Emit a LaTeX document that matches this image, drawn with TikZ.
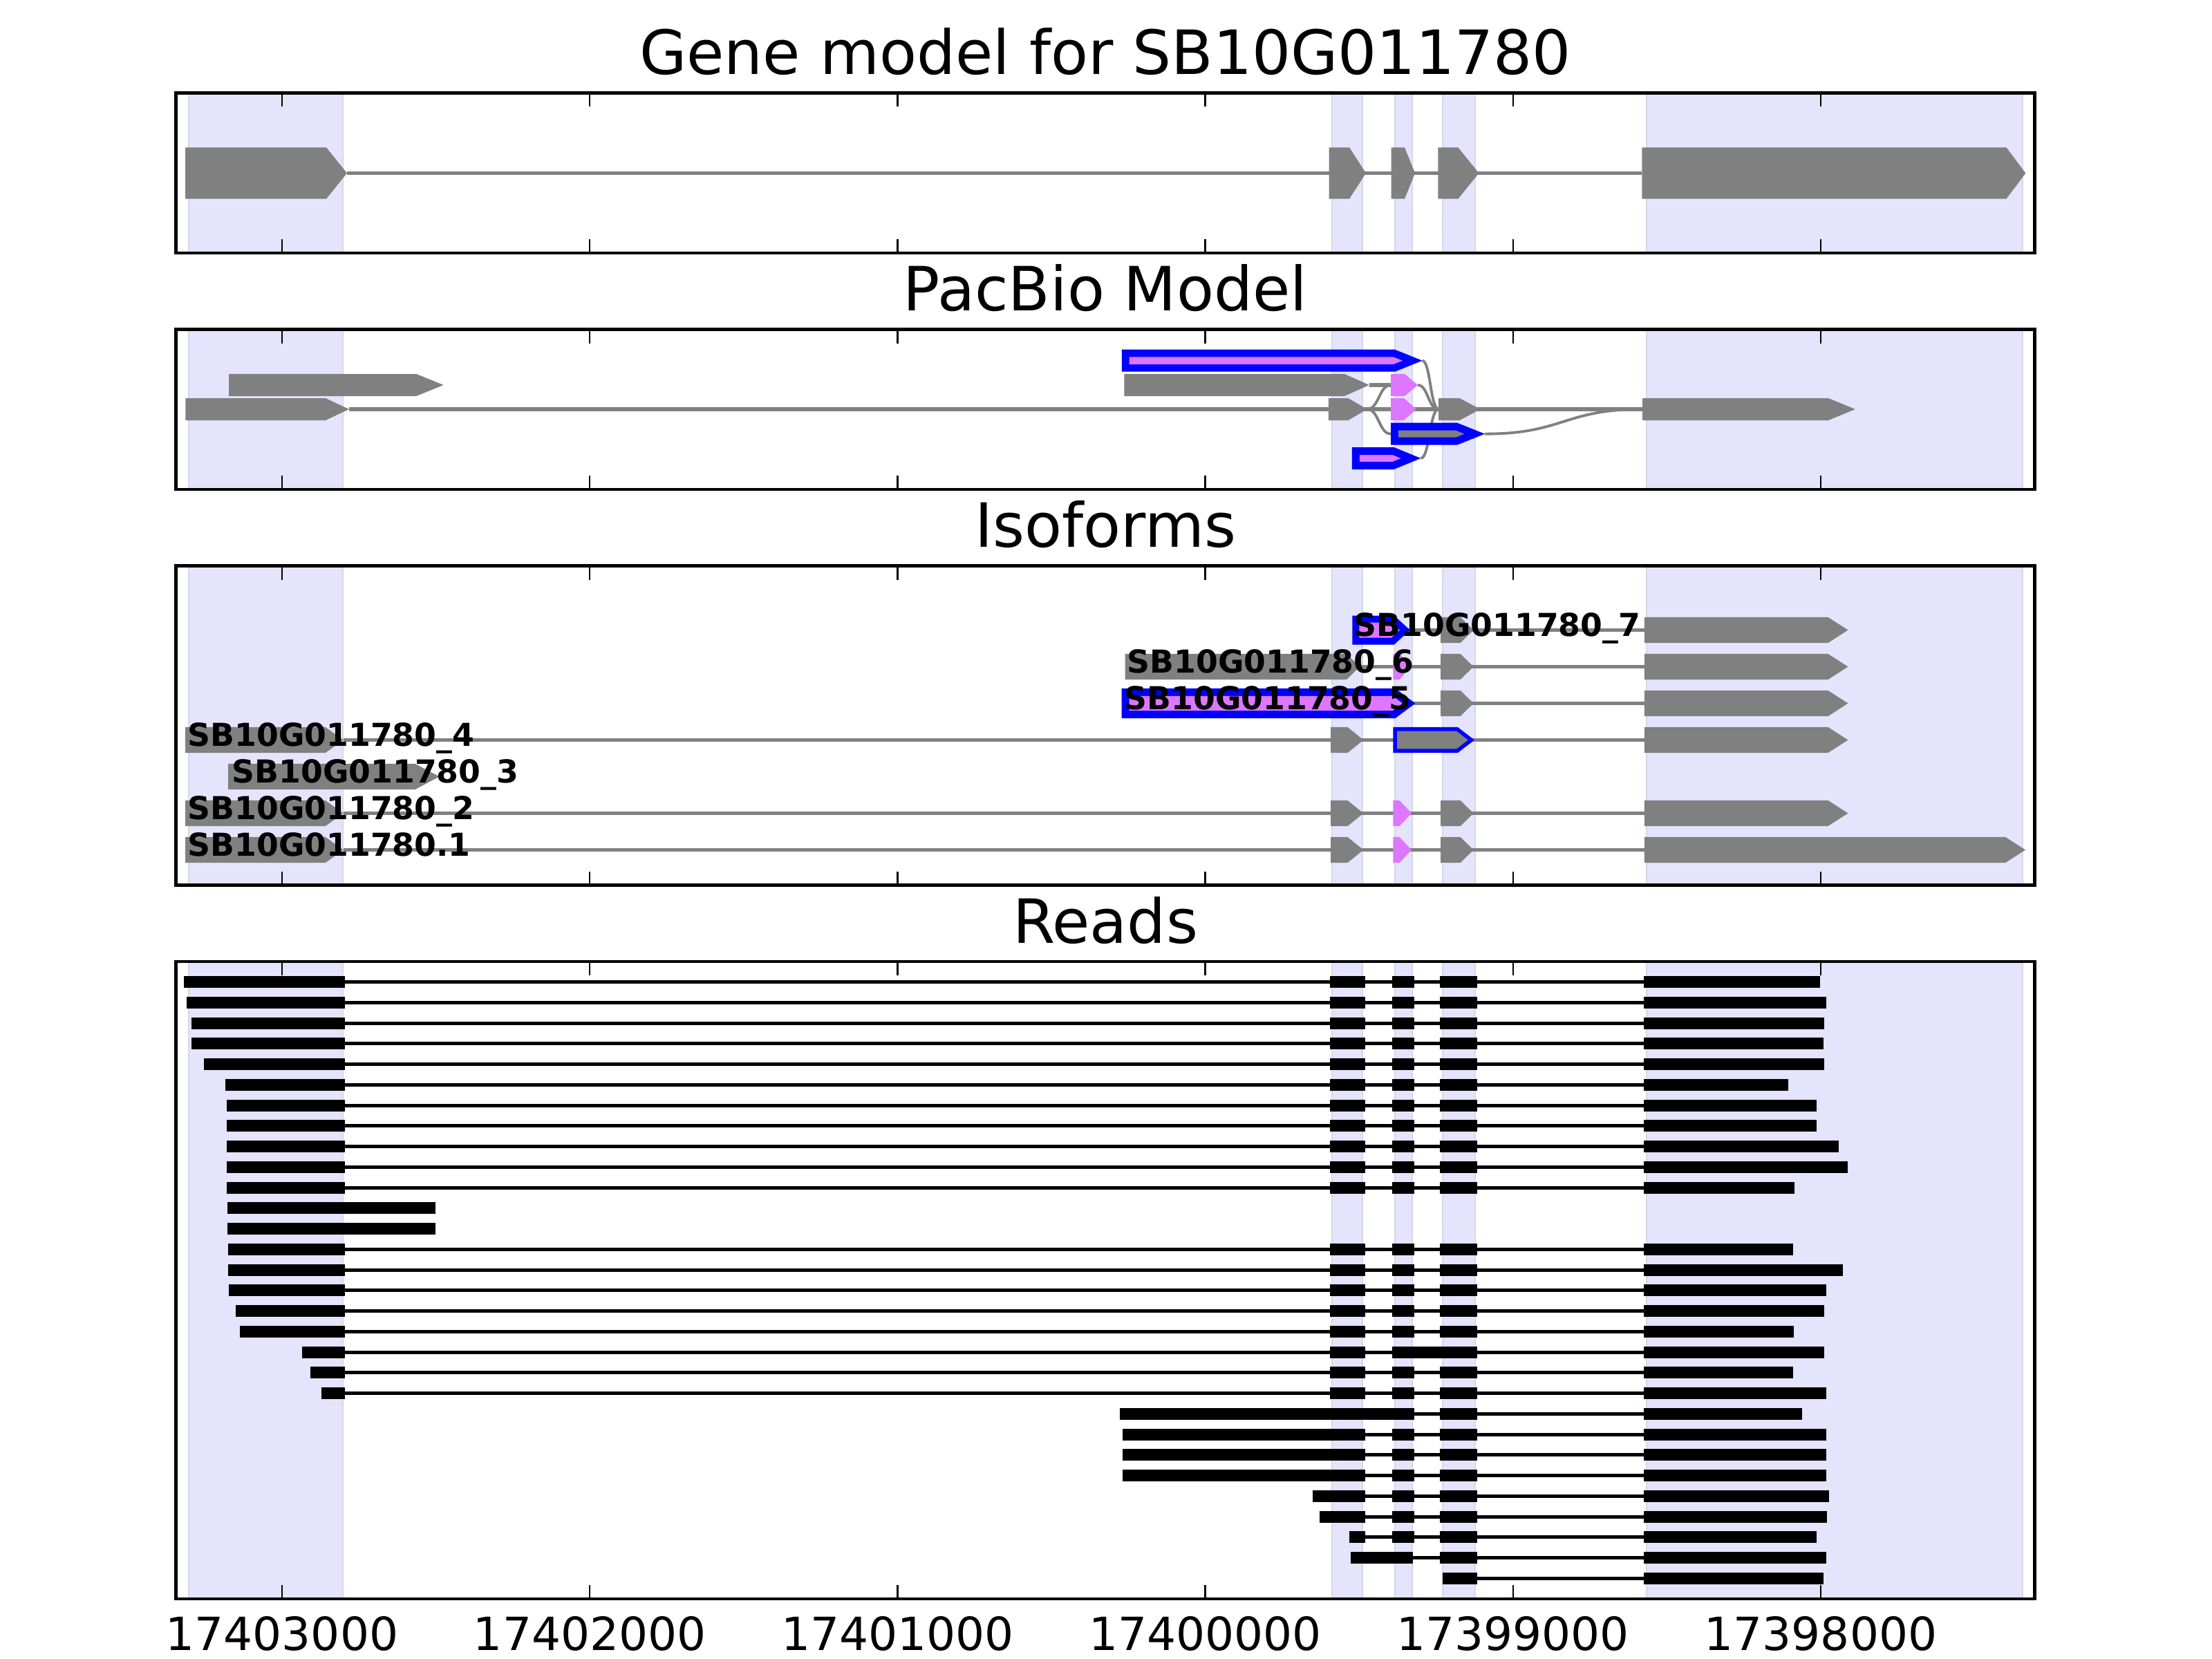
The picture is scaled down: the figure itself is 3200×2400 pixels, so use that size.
\documentclass[tikz,border=0pt]{standalone}
\usepackage{fontspec}
\setmainfont{DejaVu Sans}
\definecolor{gexon}{RGB}{128,128,128}
\definecolor{magc}{RGB}{221,119,255}
\definecolor{bluec}{RGB}{0,0,255}
\definecolor{bandc}{RGB}{228,228,252}
\definecolor{bandedge}{RGB}{214,214,236}
\newcommand{\ex}[6]{\fill[#1] (#2,#4-#5/2) -- (#3-#6,#4-#5/2) -- (#3,#4) -- (#3-#6,#4+#5/2) -- (#2,#4+#5/2) -- cycle;}
\newcommand{\bex}[7]{%
  \ex{bluec}{#2}{#3}{#4}{#5}{#6}%
  \pgfmathsetmacro\tipoff{#7/sin(atan((#5/2)/#6))}%
  \pgfmathsetmacro\ixa{#2+#7}%
  \pgfmathsetmacro\ixb{#3-\tipoff}%
  \pgfmathsetmacro\ih{#5-2*#7}%
  \pgfmathsetmacro\ihd{#6*\ih/#5}%
  \ex{#1}{\ixa}{\ixb}{#4}{\ih}{\ihd}}
\newcommand{\rblk}[3]{\fill[black] (#1,#3-8.5) rectangle (#2,#3+8.5);}
\newcommand{\rlin}[3]{\draw[rline] (#1,#3) -- (#2,#3);}
\newcommand{\stdread}[3]{%
  \pgfmathsetmacro\ry{1420.6+(#1-1)*29.75}%
  \rlin{499.3}{2378}{\ry}%
  \rblk{#2}{499.3}{\ry}\rblk{1924.2}{1974.7}{\ry}\rblk{2013.8}{2045.9}{\ry}\rblk{2082.6}{2137}{\ry}\rblk{2378}{#3}{\ry}}
\begin{document}
\begin{tikzpicture}[x=0.01cm,y=-0.01cm,
  gline/.style={draw=gexon,line width=1.5pt},
  gcurve/.style={draw=gexon,line width=1.1pt},
  rline/.style={draw=black,line width=1.4pt},
  frame/.style={draw=black,line width=1.3pt},
  tickmark/.style={draw=black,line width=0.7pt},
  titletext/.style={font=\fontsize{25.1}{30}\selectfont,inner sep=0pt,anchor=base},
  ticktext/.style={font=\fontsize{18.8}{22}\selectfont,inner sep=0pt,anchor=base},
  lab/.style={font=\fontsize{13}{15}\selectfont\bfseries,inner sep=0pt,anchor=base west}]
\useasboundingbox[fill=white] (0,0) rectangle (3200,2400);

% ---------- bands ----------
\foreach \ya/\yb in {134.5/366, 476.5/708, 818.5/1280.5, 1391/2313}{
  \foreach \xa/\xb in {273/496, 1927/1971, 2018/2043, 2087/2134, 2382/2926}{
    \fill[bandc,draw=bandedge,line width=0.5pt] (\xa,\ya) rectangle (\xb,\yb);
  }
}

% ---------- titles ----------
\node[titletext] (title1) at (1599,107.5) {Gene model for SB10G011780};
\node[titletext] (title2) at (1599,449.5) {PacBio Model};
\node[titletext] (title3) at (1599,791.5) {Isoforms};
\node[titletext] (title4) at (1599,1364) {Reads};

% ---------- gene model ----------
\draw[gline] (502,250.5) -- (2375.3,250.5);
\ex{gexon}{268}{502}{250.5}{74.4}{30}
\ex{gexon}{1922.6}{1976}{250.5}{74.4}{24}
\ex{gexon}{2012.7}{2047}{250.5}{74.4}{15}
\ex{gexon}{2080.4}{2139.4}{250.5}{74.4}{30}
\ex{gexon}{2375.3}{2930.4}{250.5}{74.4}{28}

% ---------- PacBio model ----------
\draw[gline] (505,592) -- (2376,592);
\draw[gline] (1980.8,557) -- (2012,557);
\draw[gcurve] (1977.7,592) .. controls (1994.9,592) and (1994.9,557) .. (2012,557);
\draw[gcurve] (1977.7,592) .. controls (1994.9,592) and (1994.9,627.7) .. (2012,627.7);
\draw[gcurve] (2057.6,521.7) .. controls (2069.3,521.7) and (2069.3,592) .. (2081,592);
\draw[gcurve] (2050.9,557) .. controls (2066,557) and (2066,592) .. (2081,592);
\draw[gcurve] (2055.4,663) .. controls (2068.2,663) and (2068.2,592) .. (2081,592);
\draw[gcurve] (2148,627.7) .. controls (2262,627.7) and (2262,592) .. (2376,592);
% row A
\bex{magc}{1622.8}{2057.6}{521.7}{32}{39.7}{10.7}
% row B
\ex{gexon}{331}{641.7}{557}{32}{39.4}
\ex{gexon}{1626.3}{1980.8}{557}{32}{35.8}
\ex{magc}{2012}{2050.9}{557}{32}{18.8}
% row C
\ex{gexon}{268.3}{505}{592}{32}{34}
\ex{gexon}{1921.9}{1977.7}{592}{32}{27.2}
\ex{magc}{2012}{2049}{592}{32}{18}
\ex{gexon}{2081}{2141.5}{592}{32}{29.9}
\ex{gexon}{2376}{2683.8}{592}{32}{38.7}
% row D
\bex{gexon}{2012}{2148}{627.7}{32}{40}{11}
% row E
\bex{magc}{1955.8}{2055.4}{663}{32}{38.9}{11}

% ---------- Isoforms ----------
% row 1
\draw[gline] (496.7,1229.5) -- (2378.8,1229.5);
\ex{gexon}{268}{496.7}{1229.5}{37.3}{26}
\ex{gexon}{1925}{1972.4}{1229.5}{37.3}{23}
\ex{magc}{2015.3}{2042}{1229.5}{37.3}{17.5}
\ex{gexon}{2084.2}{2131.6}{1229.5}{37.3}{19}
\ex{gexon}{2378.8}{2930}{1229.5}{37.3}{29}
% row 2
\draw[gline] (496.7,1176.5) -- (2378.8,1176.5);
\ex{gexon}{268}{496.7}{1176.5}{37.3}{26}
\ex{gexon}{1925}{1972.4}{1176.5}{37.3}{23}
\ex{magc}{2015.3}{2042}{1176.5}{37.3}{17.5}
\ex{gexon}{2084.2}{2131.6}{1176.5}{37.3}{19}
\ex{gexon}{2378.8}{2673.4}{1176.5}{37.3}{29}
% row 3
\ex{gexon}{330}{635.5}{1123.5}{37.3}{35}
% row 4
\draw[gline] (496.7,1070.5) -- (2378.8,1070.5);
\ex{gexon}{268}{496.7}{1070.5}{37.3}{26}
\ex{gexon}{1925}{1972.4}{1070.5}{37.3}{23}
\bex{gexon}{2015.3}{2133}{1070.5}{37.3}{24.3}{5.7}
\ex{gexon}{2378.8}{2673.4}{1070.5}{37.3}{29}
% row 5
\draw[gline] (2040,1017.5) -- (2378.8,1017.5);
\bex{magc}{1622.7}{2047.4}{1017.5}{43.3}{29}{11}
\ex{gexon}{2084.2}{2131.6}{1017.5}{37.3}{19}
\ex{gexon}{2378.8}{2673.4}{1017.5}{37.3}{29}
% row 6
\draw[gline] (1967,964.5) -- (2378.8,964.5);
\ex{gexon}{1627.7}{1967}{964.5}{37.3}{19}
\ex{magc}{2015.3}{2039.8}{964.5}{37.3}{15}
\ex{gexon}{2084.2}{2131.6}{964.5}{37.3}{19}
\ex{gexon}{2378.8}{2673.4}{964.5}{37.3}{29}
% row 7
\draw[gline] (2035,911.5) -- (2378.8,911.5);
\bex{magc}{1956.4}{2039.8}{911.5}{42}{23}{10}
\ex{gexon}{2084.2}{2131.6}{911.5}{37.3}{19}
\ex{gexon}{2378.8}{2673.4}{911.5}{37.3}{29}
% labels
\node[lab] (iso7) at (1958,920.5) {SB10G011780\_7};
\node[lab] (iso6) at (1630,973.5) {SB10G011780\_6};
\node[lab] (iso5) at (1626,1026.5) {SB10G011780\_5};
\node[lab] (iso4) at (271,1079.5) {SB10G011780\_4};
\node[lab] (iso3) at (335,1132.5) {SB10G011780\_3};
\node[lab] (iso2) at (271,1185.5) {SB10G011780\_2};
\node[lab] (iso1) at (271,1238.5) {SB10G011780.1};

% ---------- Reads ----------
\stdread{1}{265.8}{2632.9}
\stdread{2}{269.7}{2642}
\stdread{3}{277.3}{2639}
\stdread{4}{277.3}{2638.3}
\stdread{5}{294.5}{2639}
\stdread{6}{326.1}{2587}
\stdread{7}{328}{2628.3}
\stdread{8}{328}{2628.3}
\stdread{9}{328}{2659.7}
\stdread{10}{328}{2672.7}
\stdread{11}{328}{2596.2}
\rblk{329}{630.3}{1747.85}
\rblk{329}{630.3}{1777.6}
\stdread{14}{330}{2593.9}
\stdread{15}{330}{2665.8}
\stdread{16}{330.9}{2642}
\stdread{17}{341.4}{2639}
\stdread{18}{347.1}{2594.6}
\stdread{19}{437}{2639}
\rblk{2013.8}{2137}{1956.1}
\stdread{20}{448.5}{2593.9}
\stdread{21}{464.8}{2642}
% row 22
\rlin{2045.9}{2378}{2045.35}
\rblk{1619.6}{2045.9}{2045.35}\rblk{2082.6}{2137}{2045.35}\rblk{2378}{2606.9}{2045.35}
% rows 23-28
\foreach \ri/\rs/\re in {23/1624.2/2642, 24/1624.2/2642, 25/1624.2/2642, 26/1899/2645.9, 27/1908.9/2642.8, 28/1951.8/2628.3}{
  \pgfmathsetmacro\ry{1420.6+(\ri-1)*29.75}
  \rlin{1974.7}{2378}{\ry}
  \rblk{\rs}{1974.7}{\ry}\rblk{2013.8}{2045.9}{\ry}\rblk{2082.6}{2137}{\ry}\rblk{2378}{\re}{\ry}
}
% row 29
\rlin{2043.6}{2378}{2253.6}
\rblk{1954}{2043.6}{2253.6}\rblk{2082.6}{2137}{2253.6}\rblk{2378}{2642}{2253.6}
% row 30
\rlin{2137}{2378}{2283.35}
\rblk{2087.2}{2137}{2283.35}\rblk{2378}{2638.3}{2283.35}

% ---------- frames and ticks ----------
\foreach \ya/\yb in {134.5/366, 476.5/708, 818.5/1280.5, 1391/2313}{
  \foreach \tx in {408, 853.2, 1298.4, 1743.6, 2188.8, 2634}{
    \draw[tickmark] (\tx,\ya) -- (\tx,\ya+20);
    \draw[tickmark] (\tx,\yb) -- (\tx,\yb-20);
  }
  \draw[frame] (254.5,\ya) rectangle (2943.5,\yb);
}
\node[ticktext] (tk0) at (408,2387) {17403000};
\node[ticktext] (tk1) at (853.2,2387) {17402000};
\node[ticktext] (tk2) at (1298.4,2387) {17401000};
\node[ticktext] (tk3) at (1743.6,2387) {17400000};
\node[ticktext] (tk4) at (2188.8,2387) {17399000};
\node[ticktext] (tk5) at (2634,2387) {17398000};
\end{tikzpicture}
\end{document}
